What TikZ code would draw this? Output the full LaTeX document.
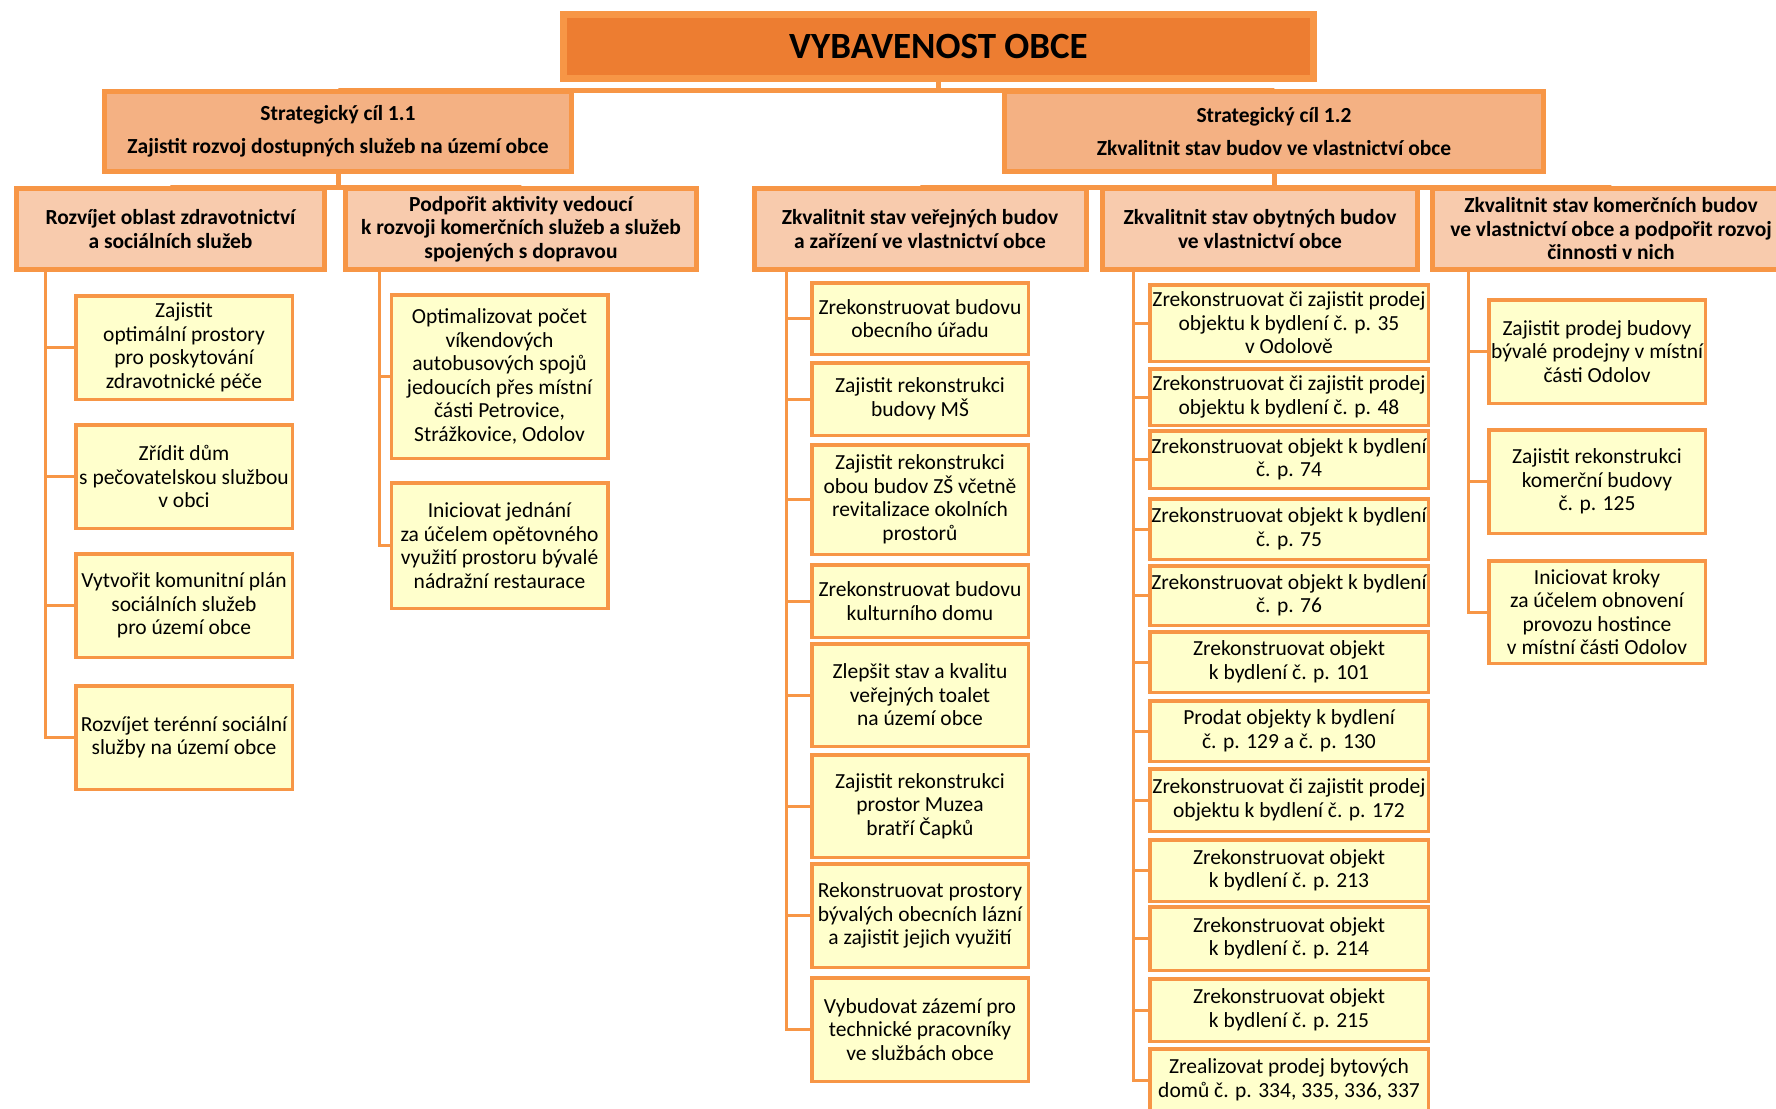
\documentclass[tikz,border=0pt]{standalone}
\usepackage{fontspec}
\setmainfont{Carlito}

\definecolor{obecline}{HTML}{F79646}
\definecolor{obectitle}{HTML}{ED7D31}
\definecolor{obeccil}{HTML}{F4B183}
\definecolor{obecoblast}{HTML}{F8CBAD}
\definecolor{obecukol}{HTML}{FFFFCC}

\tikzset{
  hlavni/.style={draw=obecline, line width=7pt, fill=obectitle, inner sep=0pt,
    minimum width=750pt, minimum height=64pt, font=\fontsize{37}{44}\selectfont\bfseries},
  cil/.style={draw=obecline, line width=5pt, fill=obeccil, inner sep=0pt, align=center,
    minimum height=80pt, font=\fontsize{21.5}{23.5}\selectfont\bfseries},
  oblast/.style={draw=obecline, line width=5pt, fill=obecoblast, inner sep=0pt, align=center,
    minimum height=81pt, font=\fontsize{21.5}{23.5}\selectfont\bfseries},
  ukol/.style={draw=obecline, line width=3.5pt, fill=obecukol, inner sep=0pt, align=center,
    minimum width=216.5pt, font=\fontsize{21.5}{23.5}\selectfont},
  vetev/.style={draw=obecline, line width=5pt},
  ukolcara/.style={draw=obecline, line width=3pt},
}

\begin{document}
\begin{tikzpicture}[x=1pt, y=-1pt]
\useasboundingbox (0,0) rectangle (1776,1108);
\clip (0,0) rectangle (1776,1108);

\node[hlavni] (titul) at (938.5,46.5) {VYBAVENOST OBCE};

\node[cil, minimum width=467pt] (cil1) at (338,131.5) {Strategický cíl 1.1\\[9pt]Zajistit rozvoj dostupných služeb na území obce};
\node[cil, minimum width=539pt] (cil2) at (1274,131.5) {Strategický cíl 1.2\\[9pt]Zkvalitnit stav budov ve vlastnictví obce};

\node[oblast, minimum width=308pt] (a1) at (170.5,229) {Rozvíjet oblast zdravotnictví\\a sociálních služeb};
\node[oblast, minimum width=351pt] (a2) at (521,229) {Podpořit aktivity vedoucí\\k rozvoji komerčních služeb a služeb\\spojených s dopravou};
\node[oblast, minimum width=332pt] (b1) at (920,229) {Zkvalitnit stav veřejných budov\\a zařízení ve vlastnictví obce};
\node[oblast, minimum width=315pt] (b2) at (1260,229) {Zkvalitnit stav obytných budov\\ve vlastnictví obce};
\node[oblast, minimum width=357pt] (b3) at (1611,229) {Zkvalitnit stav komerčních budov\\ve vlastnictví obce a podpořit rozvoj\\činnosti v nich};

% cil 1.1
\node[ukol, minimum height=103.5pt] (a1-1) at (184,347.5) {Zajistit\\optimální prostory\\pro poskytování\\zdravotnické péče};
\node[ukol, minimum height=103.5pt] (a1-2) at (184,476.5) {Zřídit dům\\s pečovatelskou službou\\v obci};
\node[ukol, minimum height=103.5pt] (a1-3) at (184,605.5) {Vytvořit komunitní plán\\sociálních služeb\\pro území obce};
\node[ukol, minimum height=103.5pt] (a1-4) at (184,737.5) {Rozvíjet terénní sociální\\služby na území obce};
\node[ukol, minimum height=163.5pt] (a2-1) at (499.5,376.5) {Optimalizovat počet\\víkendových\\autobusových spojů\\jedoucích přes místní\\části Petrovice,\\Strážkovice, Odolov};
\node[ukol, minimum height=125.5pt] (a2-2) at (499.5,545.5) {Iniciovat jednání\\za účelem opětovného\\využití prostoru bývalé\\nádražní restaurace};

% cil 1.2
\node[ukol, minimum height=71.5pt] (b1-1) at (920,318.5) {Zrekonstruovat budovu\\obecního úřadu};
\node[ukol, minimum height=72.5pt] (b1-2) at (920,399) {Zajistit rekonstrukci\\budovy MŠ};
\node[ukol, minimum height=109.5pt] (b1-3) at (920,499.5) {Zajistit rekonstrukci\\obou budov ZŠ včetně\\revitalizace okolních\\prostorů};
\node[ukol, minimum height=72.5pt] (b1-4) at (920,601) {Zrekonstruovat budovu\\kulturního domu};
\node[ukol, minimum height=102.5pt] (b1-5) at (920,695) {Zlepšit stav a kvalitu\\veřejných toalet\\na území obce};
\node[ukol, minimum height=102.5pt] (b1-6) at (920,806) {Zajistit rekonstrukci\\prostor Muzea\\bratří Čapků};
\node[ukol, minimum height=103.5pt] (b1-7) at (920,915.5) {Rekonstruovat prostory\\bývalých obecních lázní\\a zajistit jejich využití};
\node[ukol, minimum height=103.5pt] (b1-8) at (920,1029.5) {Vybudovat zázemí pro\\technické pracovníky\\ve službách obce};

\node[ukol, minimum width=278.5pt, minimum height=76.5pt] (b2-1) at (1289,323) {Zrekonstruovat či zajistit prodej\\objektu k bydlení č. p. 35\\v Odolově};
\node[ukol, minimum width=278.5pt, minimum height=56.5pt] (b2-2) at (1289,397) {Zrekonstruovat či zajistit prodej\\objektu k bydlení č. p. 48};
\node[ukol, minimum width=278.5pt, minimum height=57.5pt] (b2-3) at (1289,459.5) {Zrekonstruovat objekt k bydlení\\č. p. 74};
\node[ukol, minimum width=278.5pt, minimum height=60.5pt] (b2-4) at (1289,529) {Zrekonstruovat objekt k bydlení\\č. p. 75};
\node[ukol, minimum width=278.5pt, minimum height=59.5pt] (b2-5) at (1289,595.5) {Zrekonstruovat objekt k bydlení\\č. p. 76};
\node[ukol, minimum width=278.5pt, minimum height=60.5pt] (b2-6) at (1289,662) {Zrekonstruovat objekt\\k bydlení č. p. 101};
\node[ukol, minimum width=278.5pt, minimum height=60.5pt] (b2-7) at (1289,731) {Prodat objekty k bydlení\\č. p. 129 a č. p. 130};
\node[ukol, minimum width=278.5pt, minimum height=62.5pt] (b2-8) at (1289,800) {Zrekonstruovat či zajistit prodej\\objektu k bydlení č. p. 172};
\node[ukol, minimum width=278.5pt, minimum height=61.5pt] (b2-9) at (1289,870.5) {Zrekonstruovat objekt\\k bydlení č. p. 213};
\node[ukol, minimum width=278.5pt, minimum height=63.5pt] (b2-10) at (1289,938.5) {Zrekonstruovat objekt\\k bydlení č. p. 214};
\node[ukol, minimum width=278.5pt, minimum height=62.5pt] (b2-11) at (1289,1010) {Zrekonstruovat objekt\\k bydlení č. p. 215};
\node[ukol, minimum width=278.5pt, minimum height=62.5pt] (b2-12) at (1289,1080) {Zrealizovat prodej bytových\\domů č. p. 334, 335, 336, 337};

\node[ukol, minimum height=103.5pt] (b3-1) at (1597,351.5) {Zajistit prodej budovy\\bývalé prodejny v místní\\části Odolov};
\node[ukol, minimum height=103.5pt] (b3-2) at (1597,481.5) {Zajistit rekonstrukci\\komerční budovy\\č. p. 125};
\node[ukol, minimum height=102.5pt] (b3-3) at (1597,612) {Iniciovat kroky\\za účelem obnovení\\provozu hostince\\v místní části Odolov};

% vetve
\draw[vetev] (titul.south) -- ++(0,8.5) -| (cil1.north);
\draw[vetev] (titul.south) -- ++(0,8.5) -| (cil2.north);
\foreach \n in {a1,a2}
  \draw[vetev] (cil1.south) -- ++(0,13) -| (\n.north);
\foreach \n in {b1,b2,b3}
  \draw[vetev] (cil2.south) -- ++(0,13) -| (\n.north);

\coordinate (a1k) at (45,269.5);
\coordinate (a2k) at (379,269.5);
\coordinate (b1k) at (786,269.5);
\coordinate (b2k) at (1133,269.5);
\coordinate (b3k) at (1468,269.5);
\foreach \i in {1,...,4}
  \draw[ukolcara] (a1k) |- (a1-\i.west);
\foreach \i in {1,2}
  \draw[ukolcara] (a2k) |- (a2-\i.west);
\foreach \i in {1,...,8}
  \draw[ukolcara] (b1k) |- (b1-\i.west);
\foreach \i in {1,...,12}
  \draw[ukolcara] (b2k) |- (b2-\i.west);
\foreach \i in {1,2,3}
  \draw[ukolcara] (b3k) |- (b3-\i.west);
\end{tikzpicture}
\end{document}
